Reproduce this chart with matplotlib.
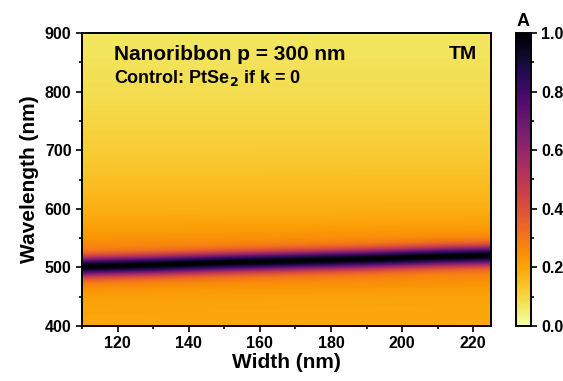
import numpy as np
import matplotlib
matplotlib.use("Agg")
import matplotlib.pyplot as plt
from matplotlib.ticker import MultipleLocator

plt.rcParams['font.family'] = ['Liberation Sans', 'DejaVu Sans']
plt.rcParams['font.weight'] = 'bold'

# Resonance position (nm) across ribbon widths (nm)
widths = [110, 130, 150, 170, 190, 210, 225]
peak_nm = [501, 504, 508, 511, 514, 518, 520]
# Off-resonance absorption baseline along wavelength
base_wl = [400, 450, 480, 540, 600, 700, 800, 900]
base_A = [0.19, 0.19, 0.22, 0.22, 0.17, 0.12, 0.085, 0.065]
# Resonance line shape (pseudo-Voigt)
sigma_nm = 11.0
hwhm_nm = 15.0
lorentz_frac = 0.35

x = np.linspace(110, 225, 300)
y = np.linspace(400, 900, 600)
X, Y = np.meshgrid(x, y)
peak = np.interp(x, widths, peak_nm)[None, :]
base = np.interp(y, base_wl, base_A)[:, None]
d = Y - peak
line = (1 - lorentz_frac) * np.exp(-0.5 * (d / sigma_nm) ** 2) \
    + lorentz_frac / (1.0 + (d / hwhm_nm) ** 2)
A = base + (1 - base) * line

fig = plt.figure(figsize=(5.63, 3.81), dpi=100)
ax = fig.add_axes([82/563, 1-326/381, (491-82)/563, (326-33)/381])
cax = fig.add_axes([516/563, 1-326/381, 15/563, (326-33)/381])

im = ax.imshow(A, origin='lower', extent=[110, 225, 400, 900], aspect='auto',
               cmap='inferno_r', vmin=0, vmax=1, interpolation='bilinear')

ax.set_xlim(110, 225)
ax.set_ylim(400, 900)
ax.xaxis.set_major_locator(MultipleLocator(20))
ax.xaxis.set_minor_locator(MultipleLocator(10))
ax.yaxis.set_major_locator(MultipleLocator(100))
ax.yaxis.set_minor_locator(MultipleLocator(50))
ax.tick_params(which='both', direction='out', width=1.2, labelsize=11.5)
ax.tick_params(which='major', length=4)
ax.tick_params(which='minor', length=2.5)
for s in ax.spines.values():
    s.set_linewidth(1.4)
ax.set_xlabel('Width (nm)', fontsize=15, fontweight='bold', labelpad=1)
ax.set_ylabel('Wavelength (nm)', fontsize=15, fontweight='bold', labelpad=4)

ax.text(0.078, 0.925, 'Nanoribbon p = 300 nm', transform=ax.transAxes,
        fontsize=15, fontweight='bold', va='center', ha='left')
ax.text(0.078, 0.845, 'Control: PtSe$_\\mathbf{2}$ if k = 0', transform=ax.transAxes,
        fontsize=13, fontweight='bold', va='center', ha='left')
ax.text(0.965, 0.925, 'TM', transform=ax.transAxes,
        fontsize=14, fontweight='bold', va='center', ha='right')

cb = fig.colorbar(im, cax=cax)
cb.set_ticks([0, 0.2, 0.4, 0.6, 0.8, 1.0])
cb.ax.yaxis.set_minor_locator(MultipleLocator(0.1))
cb.ax.tick_params(which='both', direction='out', width=1.2, labelsize=11.5)
cb.ax.tick_params(which='major', length=4)
cb.ax.tick_params(which='minor', length=2.5)
cb.outline.set_linewidth(1.4)
cb.ax.set_yticklabels(['0.0', '0.2', '0.4', '0.6', '0.8', '1.0'])
cax.text(0.5, 1.01, 'A', transform=cax.transAxes, fontsize=13,
         fontweight='bold', ha='center', va='bottom')

fig.savefig('out.png', dpi=100)
